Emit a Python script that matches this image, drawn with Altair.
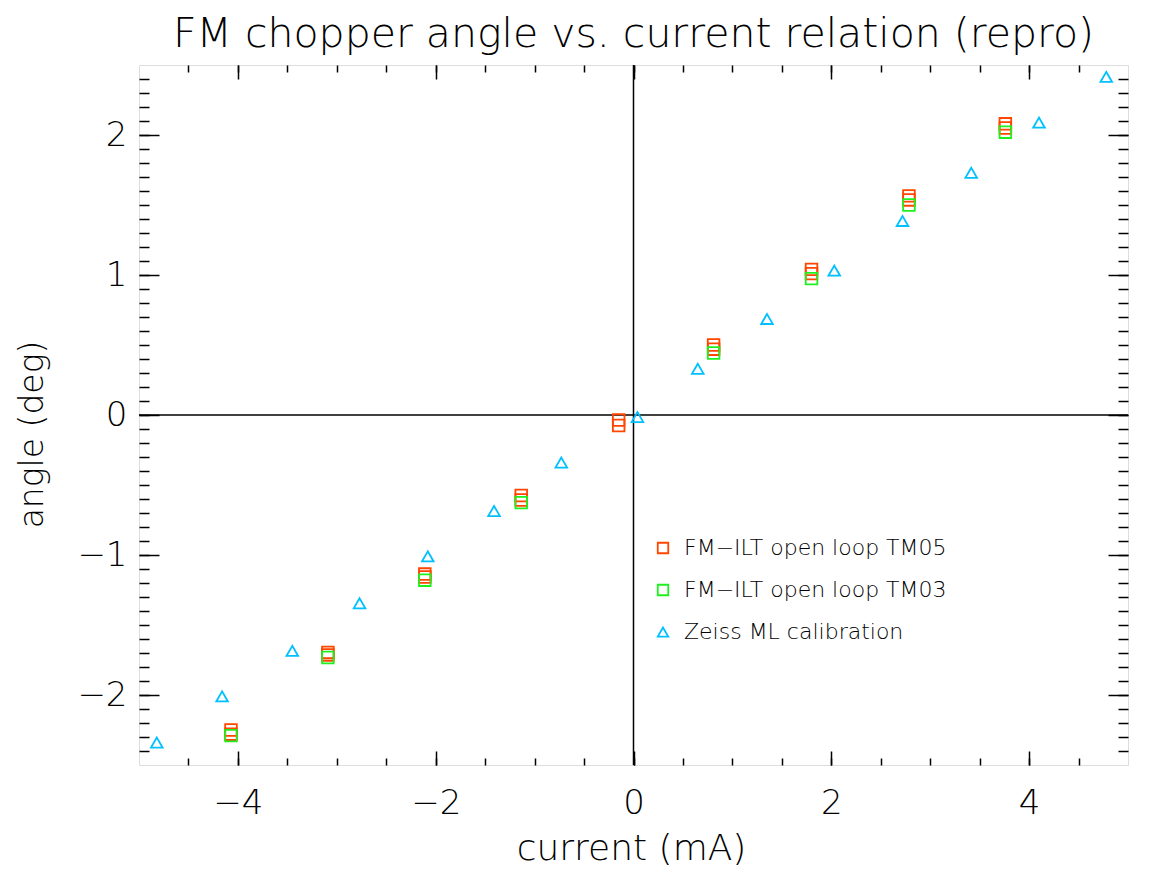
import altair as alt
import pandas as pd

# ---- data ----
sq_x = [-4.07, -3.09, -2.11, -1.135, -0.15, 0.81, 1.80, 2.785, 3.76]
tm05_a = [-2.25, -1.696, -1.136, -0.575, -0.036, 0.50, 1.04, 1.565, 2.08]
tm05_b = [-2.28, -1.714, -1.157, -0.607, -0.075, 0.47, 1.01, 1.536, 2.05]
tm03_x = [-4.07, -3.09, -2.11, -1.135, 0.81, 1.80, 2.785, 3.76]
tm03_y = [-2.29, -1.732, -1.18, -0.626, 0.443, 0.974, 1.50, 2.02]
zeiss_x = [-4.82, -4.16, -3.45, -2.77, -2.08, -1.41, -0.73, 0.04, 0.65, 1.35, 2.03, 2.72, 3.415, 4.10, 4.78]
zeiss_y = [-2.34, -2.01, -1.685, -1.345, -1.01, -0.686, -0.34, -0.015, 0.33, 0.686, 1.031, 1.386, 1.73, 2.088, 2.415]

series_names = ["FM\u2212ILT open loop TM05", "FM\u2212ILT open loop TM03", "Zeiss ML calibration"]
series_colors = ["#ff4500", "#1ef01e", "#00c0ff"]
series_shapes = ["square", "square", "triangle-up"]

x_major = [-4, -2, 0, 2, 4]
x_minor = [v / 2 for v in range(-9, 10)]
y_major = [-2, -1, 0, 1, 2]
y_minor = [round(v / 10, 1) for v in range(-24, 25)]

rows = []
for x, y in zip(sq_x, tm05_a):
    rows.append({"x": x, "y": y, "series": series_names[0]})
for x, y in zip(sq_x, tm05_b):
    rows.append({"x": x, "y": y, "series": series_names[0]})
for x, y in zip(tm03_x, tm03_y):
    rows.append({"x": x, "y": y, "series": series_names[1]})
for x, y in zip(zeiss_x, zeiss_y):
    rows.append({"x": x, "y": y, "series": series_names[2]})
df = pd.DataFrame(rows)

FONT = "DejaVu Sans"
FW = 200
xscale = alt.Scale(domain=[-5, 5], nice=False, zero=False)
yscale = alt.Scale(domain=[-2.5, 2.5], nice=False, zero=False)

color = alt.Color(
    "series:N",
    scale=alt.Scale(domain=series_names, range=series_colors),
    legend=alt.Legend(
        title=None, orient="none", legendX=513, legendY=472,
        labelFontSize=22, labelFont=FONT, labelFontWeight=FW, labelColor="black",
        labelLimit=600, rowPadding=20, labelOffset=10, symbolStrokeWidth=1.8,
        symbolSize=110, padding=0,
    ),
)
shape = alt.Shape("series:N", scale=alt.Scale(domain=series_names, range=series_shapes), legend=None)


def ax(orient, values, ticksize, labels=False, title="", **kw):
    return alt.Axis(
        orient=orient, values=values, tickSize=ticksize, offset=-ticksize,
        domain=False, grid=False, labels=labels, title=title, tickColor="black",
        tickWidth=1.5, **kw,
    )


lab_x = dict(labelFontSize=34, labelFont=FONT, labelFontWeight=FW, labelColor="black",
             labelPadding=21, labelFlush=False, titleFontSize=36, titleFont=FONT,
             titleFontWeight=FW, titleColor="black", titleX=492, titleY=108,
             titleBaseline="alphabetic", titleAlign="center")
lab_y = dict(labelFontSize=34, labelFont=FONT, labelFontWeight=FW, labelColor="black",
             labelPadding=12, titleFontSize=33, titleFont=FONT, titleFontWeight=FW,
             titleColor="black", titleX=-127, titleY=369, titleAngle=270,
             titleBaseline="middle", titleAlign="center")

vline = alt.Chart(pd.DataFrame({"v": [0]})).mark_rule(color="black", strokeWidth=1.5).encode(
    x=alt.X("v:Q", scale=xscale, axis=ax("top", x_minor, 7)),
)
hline = alt.Chart(pd.DataFrame({"v": [0]})).mark_rule(color="black", strokeWidth=1.5).encode(
    y=alt.Y("v:Q", scale=yscale, axis=ax("right", y_minor, 10)),
)

pts = alt.Chart(df).mark_point(filled=False, strokeWidth=1.8, size=135, opacity=1)


def layer(name, xaxis, yaxis):
    return pts.transform_filter(alt.datum.series == name).encode(
        x=alt.X("x:Q", scale=xscale, axis=xaxis),
        y=alt.Y("y:Q", scale=yscale, axis=yaxis),
        color=color,
        shape=shape,
    )


l1 = layer(series_names[0],
           ax("bottom", x_major, 14, labels=True, title="current (mA)", **lab_x),
           ax("left", y_major, 20, labels=True, title="angle (deg)", **lab_y))
l2 = layer(series_names[1], ax("bottom", x_minor, 7), ax("left", y_minor, 10))
l3 = layer(series_names[2], ax("top", x_major, 14), ax("right", y_major, 20))

chart = alt.layer(vline, hline, l1, l2, l3).resolve_axis(
    x="independent", y="independent"
).properties(
    width=989, height=700,
    autosize=alt.AutoSizeParams(type="none"),
    padding={"left": 131, "top": 57, "right": 20, "bottom": 102},
    title=alt.TitleParams(
        "FM chopper angle vs. current relation (repro)",
        fontSize=41, font=FONT, fontWeight=FW, color="black",
        anchor="middle", offset=8,
    ),
).configure_view(stroke="black", strokeWidth=2).configure(background="white")

chart.save("out.html", embed_options={"renderer": "svg", "actions": False})
